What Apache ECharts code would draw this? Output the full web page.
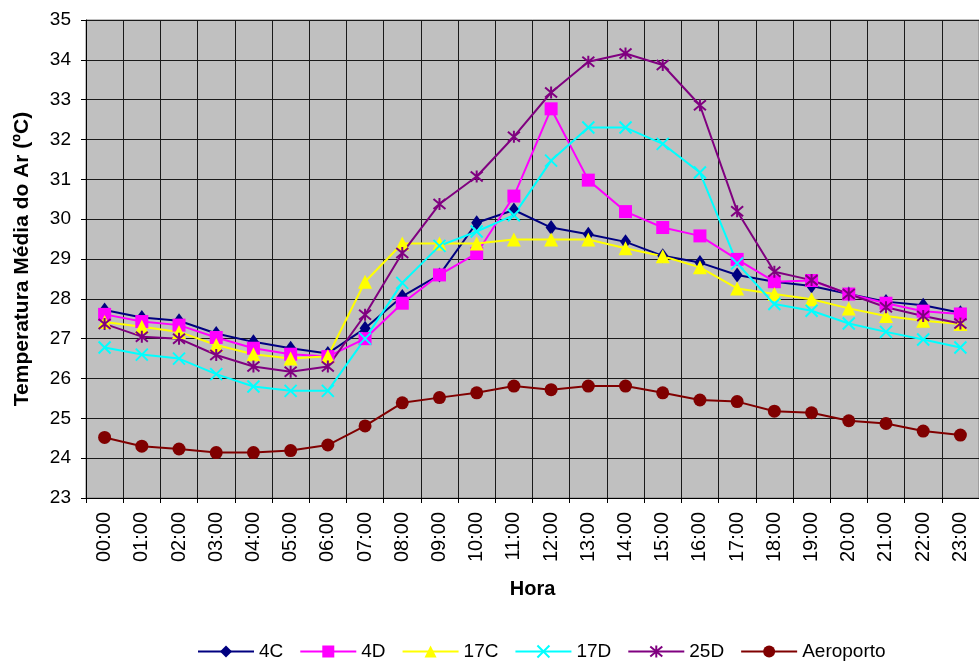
<!DOCTYPE html>
<html>
<head>
    <meta charset="utf-8">
    <title>Temperatura Média do Ar</title>
    <script src="https://cdn.jsdelivr.net/npm/echarts@6/dist/echarts.min.js"></script>
    <style>
        html, body { margin: 0; padding: 0; background: #fff; }
        #main { width: 979px; height: 661px; }
    </style>
</head>
<body>
    <div id="main"></div>
    <script>
    var horas = ['00:00', '01:00', '02:00', '03:00', '04:00', '05:00', '06:00', '07:00',
        '08:00', '09:00', '10:00', '11:00', '12:00', '13:00', '14:00', '15:00',
        '16:00', '17:00', '18:00', '19:00', '20:00', '21:00', '22:00', '23:00'];

    var s4C = [27.72, 27.53, 27.45, 27.13, 26.92, 26.76, 26.63, 27.26, 28.06, 28.6, 29.91, 30.23,
        29.79, 29.62, 29.43, 29.08, 28.91, 28.6, 28.43, 28.32, 28.12, 27.93, 27.84, 27.65];
    var s4D = [27.61, 27.43, 27.34, 27.03, 26.76, 26.61, 26.55, 27.0, 27.89, 28.6, 29.14, 30.58,
        32.77, 30.98, 30.19, 29.79, 29.58, 28.99, 28.43, 28.46, 28.12, 27.89, 27.69, 27.62];
    var s17C = [27.42, 27.3, 27.17, 26.84, 26.61, 26.5, 26.56, 28.43, 29.39, 29.39, 29.39, 29.49,
        29.49, 29.49, 29.27, 29.07, 28.79, 28.26, 28.12, 27.99, 27.76, 27.57, 27.45, 27.37];
    var s17D = [26.78, 26.6, 26.5, 26.11, 25.8, 25.69, 25.69, 27.0, 28.4, 29.33, 29.69, 30.1,
        31.47, 32.3, 32.3, 31.89, 31.17, 28.89, 27.87, 27.7, 27.38, 27.17, 26.98, 26.78];
    var s25D = [27.37, 27.05, 27.0, 26.59, 26.3, 26.17, 26.3, 27.6, 29.15, 30.38, 31.07, 32.07,
        33.18, 33.95, 34.16, 33.87, 32.86, 30.2, 28.68, 28.47, 28.12, 27.79, 27.57, 27.38];
    var aeroporto = [24.52, 24.3, 24.23, 24.14, 24.14, 24.19, 24.33, 24.81, 25.39, 25.52, 25.64, 25.81,
        25.72, 25.81, 25.81, 25.64, 25.46, 25.42, 25.18, 25.14, 24.94, 24.87, 24.68, 24.58];

    var nomes = ['4C', '4D', '17C', '17D', '25D', 'Aeroporto'];
    var cores = ['#000080', '#FF00FF', '#FFFF00', '#00FFFF', '#800080', '#800000'];
    var dados = [s4C, s4D, s17C, s17D, s25D, aeroporto];

    var simbolos = [
        { symbol: 'diamond', size: [11, 15], stroke: false },
        { symbol: 'rect', size: 13, stroke: false },
        { symbol: 'triangle', size: 14, stroke: false },
        { symbol: 'path://M0,0L10,10M10,0L0,10', size: 12, stroke: true },
        { symbol: 'path://M0,0L10,10M10,0L0,10M5,-1L5,11', size: 12, stroke: true },
        { symbol: 'circle', size: 13, stroke: false }
    ];

    var series = nomes.map(function (nome, i) {
        var s = simbolos[i];
        return {
            name: nome,
            type: 'line',
            data: dados[i],
            symbol: s.symbol,
            symbolSize: s.size,
            showAllSymbol: true,
            animation: false,
            lineStyle: { color: cores[i], width: 2 },
            itemStyle: s.stroke ? {
                color: 'rgba(0,0,0,0)',
                borderColor: cores[i],
                borderWidth: 2
            } : {
                color: cores[i],
                borderWidth: 0
            }
        };
    });

    var myChart = echarts.init(document.getElementById('main'));

    var fonte = 'Liberation Sans, Arial, sans-serif';

    var option = {
        backgroundColor: '#fff',
        textStyle: { fontFamily: fonte, color: '#000' },
        grid: {
            left: 86,
            top: 20,
            width: 895,
            bottom: 163,
            show: true,
            backgroundColor: '#C0C0C0',
            borderColor: '#808080',
            borderWidth: 1
        },
        legend: {
            top: 637,
            left: 192,
            itemWidth: 56,
            itemHeight: 15,
            itemGap: 16,
            textStyle: { fontSize: 19, color: '#000', fontFamily: fonte },
            data: nomes
        },
        xAxis: {
            type: 'category',
            data: horas,
            boundaryGap: true,
            name: 'Hora',
            nameLocation: 'middle',
            nameGap: 81,
            nameTextStyle: { fontSize: 20, fontWeight: 'bold', color: '#000', fontFamily: fonte },
            axisLine: { lineStyle: { color: '#000', width: 1 } },
            axisTick: { show: true, length: 5, lineStyle: { color: '#000' } },
            axisLabel: { rotate: 90, fontSize: 20, color: '#000', margin: 14, interval: 0 },
            splitLine: { show: true, interval: 0, lineStyle: { color: '#1a1a1a', width: 1 } }
        },
        yAxis: {
            type: 'value',
            min: 23,
            max: 35,
            interval: 1,
            name: 'Temperatura Média do Ar (ºC)',
            nameLocation: 'middle',
            nameGap: 53,
            nameTextStyle: { fontSize: 21, fontWeight: 'bold', color: '#000', fontFamily: fonte },
            axisLine: { show: true, lineStyle: { color: '#000', width: 1 } },
            axisTick: { show: true, length: 5, lineStyle: { color: '#000' } },
            axisLabel: { fontSize: 19, color: '#000', margin: 15 },
            splitLine: { show: true, lineStyle: { color: '#1a1a1a', width: 1 } }
        },
        series: series
    };

    myChart.setOption(option);
    window.onresize = myChart.resize;
    </script>
</body>
</html>
